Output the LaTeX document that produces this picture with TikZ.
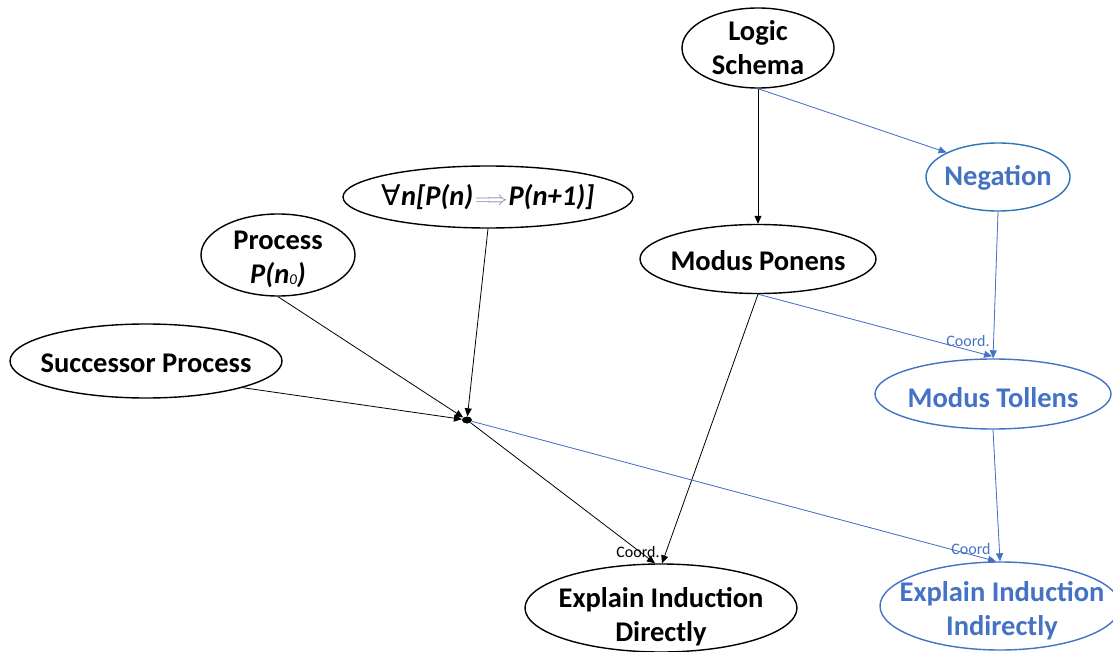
\documentclass[tikz,border=0pt]{standalone}
\usepackage{fontspec}
\setmainfont{Carlito}
\newfontfamily\symfont{DejaVu Sans}
\usetikzlibrary{shapes.geometric,arrows.meta}
\definecolor{accent}{HTML}{4472C4}
\definecolor{accentline}{HTML}{2E75B6}
\definecolor{implgray}{HTML}{7F8AA6}
\tikzset{
  ov/.style={ellipse, draw=black, line width=1.4pt, inner sep=0pt, fill=white},
  ovblue/.style={ov, draw=accent},
  txt/.style={font=\bfseries\fontsize{28.5}{34}\selectfont, align=center, text=black, inner sep=0pt},
  txtblue/.style={txt, text=accent},
  lbl/.style={font=\fontsize{16}{18}\selectfont, inner sep=0pt},
  edge/.style={line width=0.8pt, draw=black, -{Triangle[length=8pt,width=7pt]}},
  edgeblue/.style={edge, draw=accent, fill=accent},
}
\begin{document}
\begin{tikzpicture}[x=1pt,y=-1pt]
\useasboundingbox (0,0) rectangle (1113,652);

% ellipse nodes (text set as centred labels so the outlines keep their own size)
\node[ov, minimum width=152pt, minimum height=80pt,
      label={[txt]center:Logic\\Schema}] (ls) at (758,48) {};
\node[ov, draw=accentline, minimum width=144pt, minimum height=68pt,
      label={[txtblue, yshift=-1pt]center:Negation}] (neg) at (998,177) {};
\node[ov, minimum width=236pt, minimum height=69pt,
      label={[txt, yshift=-2pt]center:Modus Ponens}] (mp) at (758,259) {};
\node[ov, minimum width=290pt, minimum height=62pt,
      label={[txt]center:{{\mdseries\symfont ∀}\itshape n[P(n)\hspace{2pt}{\color{implgray}\fontsize{20}{20}\selectfont$\Longrightarrow$}\hspace{1pt}P(n+1)]}}] (fa) at (488,197) {};
\node[ov, minimum width=154pt, minimum height=82pt,
      label={[txt, yshift=-4pt]center:Process\\{\itshape P(n\raisebox{-1pt}{\fontsize{15}{15}\selectfont\mdseries 0})}}] (pr) at (278,255) {};
\node[ov, minimum width=272pt, minimum height=74pt,
      label={[txt, yshift=-2pt]center:Successor Process}] (sp) at (146,361) {};
\node[ovblue, minimum width=236pt, minimum height=70pt,
      label={[txtblue, yshift=-4pt]center:Modus Tollens}] (mt) at (993,394) {};
\node[ov, minimum width=272pt, minimum height=88pt,
      label={[txt, yshift=-9pt]center:Explain Induction\\Directly}] (ed) at (661,608) {};
\node[ovblue, minimum width=240pt, minimum height=88pt,
      label={[txtblue, yshift=-5pt, xshift=2pt]center:Explain Induction\\Indirectly}] (ei) at (1000,606) {};

% junction where the induction premises meet
\node[ellipse, fill=black, inner sep=0pt, minimum width=10pt, minimum height=7pt] (j) at (467,420) {};

% small connector labels
\node[lbl, text=accent] (c1) at (968,341) {Coord.};
\node[lbl, text=black] (c2) at (638,552) {Coord.};
\node[lbl, text=accent] (c3) at (971,549) {Coord};

% connectors
\draw[edge] (ls.south) -- (mp.north);
\draw[edgeblue] (ls.south) -- (neg.north west);
\draw[edgeblue] (neg.south) -- (mt.north);
\draw[edgeblue] (mp.south) -- ([xshift=-1pt,yshift=2pt]mt.north);
\draw[edge] (mp.south) -- ([xshift=1pt]ed.north);
\draw[edge] (pr.south) -- (j);
\draw[edge] (sp.south east) -- (j);
\draw[edge] (fa.south) -- (j);
\draw[edge] (j) -- ([xshift=-6pt]ed.north);
\draw[edgeblue] (j) -- ([xshift=-4pt]ei.north);
\draw[edgeblue] (mt.south) -- (ei.north);
\end{tikzpicture}
\end{document}
